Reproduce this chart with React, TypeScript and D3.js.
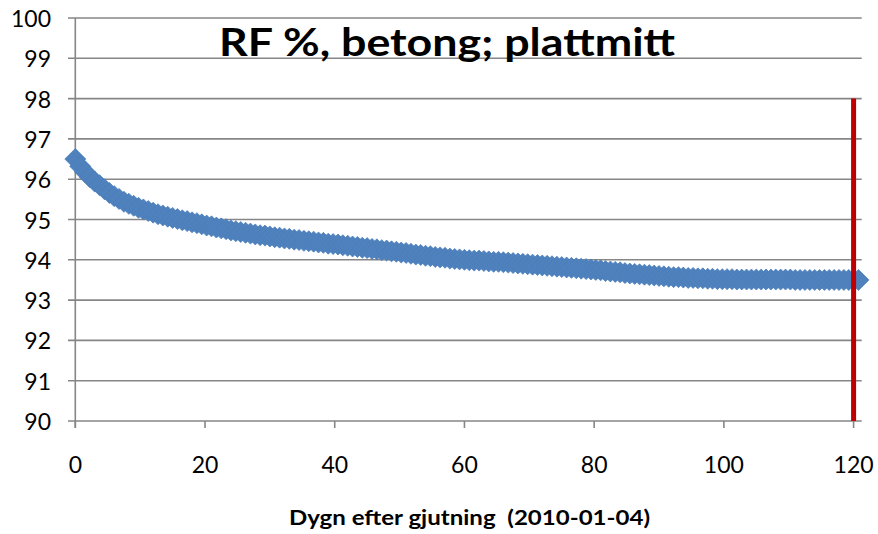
import React from "react";
import * as d3 from "d3";

// ---- data ----
const title = "RF %, betong; plattmitt";
const xAxisTitle = "Dygn efter gjutning  (2010-01-04)";
const xTicks = [0, 20, 40, 60, 80, 100, 120];
const yTicks = [90, 91, 92, 93, 94, 95, 96, 97, 98, 99, 100];
const sampleStepDays = 0.75;
const rfValues = [
  96.5, 96.32, 96.18, 96.05, 95.94, 95.85, 95.75, 95.66, 95.58, 95.51,
  95.44, 95.39, 95.34, 95.29, 95.25, 95.21, 95.17, 95.13, 95.1, 95.07,
  95.04, 95.01, 94.98, 94.96, 94.93, 94.91, 94.88, 94.85, 94.83, 94.8,
  94.78, 94.76, 94.73, 94.71, 94.69, 94.67, 94.65, 94.63, 94.61, 94.6,
  94.58, 94.56, 94.55, 94.53, 94.52, 94.5, 94.49, 94.47, 94.46, 94.45,
  94.43, 94.42, 94.4, 94.39, 94.38, 94.36, 94.35, 94.33, 94.32, 94.3,
  94.29, 94.27, 94.26, 94.24, 94.23, 94.21, 94.2, 94.18, 94.17, 94.15,
  94.13, 94.12, 94.1, 94.09, 94.07, 94.06, 94.05, 94.03, 94.02, 94.01,
  94.0, 93.99, 93.98, 93.98, 93.97, 93.96, 93.95, 93.95, 93.94, 93.93,
  93.92, 93.91, 93.9, 93.89, 93.88, 93.87, 93.86, 93.85, 93.84, 93.83,
  93.82, 93.81, 93.8, 93.79, 93.78, 93.77, 93.76, 93.75, 93.74, 93.72,
  93.71, 93.7, 93.69, 93.67, 93.66, 93.65, 93.64, 93.63, 93.62, 93.61,
  93.6, 93.59, 93.58, 93.57, 93.57, 93.56, 93.55, 93.55, 93.54, 93.54,
  93.53, 93.53, 93.52, 93.52, 93.52, 93.52, 93.51, 93.51, 93.51, 93.51,
  93.51, 93.51, 93.51, 93.51, 93.51, 93.51, 93.51, 93.51, 93.5, 93.5,
  93.5, 93.5, 93.5, 93.5, 93.5, 93.5, 93.5, 93.5, 93.5, 93.5,
  93.5, 93.5,
];
const markerLineX = [120, 120];
const markerLineY = [90, 98];

const W = 878;
const H = 534;
const FONT = "Lato, 'Open Sans', sans-serif";

export default function App() {
  const x = d3.scaleLinear().domain([0, 121.25]).range([75.3, 861.7]);
  const y = d3.scaleLinear().domain([90, 100]).range([421, 18]);
  const points = rfValues.map((v, i) => ({ d: i * sampleStepDays, v }));
  const r = 10.5;
  const diamond = (cx: number, cy: number) =>
    `M${cx},${cy - r}L${cx + r},${cy}L${cx},${cy + r}L${cx - r},${cy}Z`;
  const redLine = d3
    .line<number>()
    .x((_, i) => x(markerLineX[i]))
    .y((v) => y(v))(markerLineY);

  return (
    <svg
      width={W}
      height={H}
      style={{ position: "absolute", left: 0, top: 0, background: "#fff" }}
      fontFamily={FONT}
    >
      <rect x={0} y={0} width={W} height={H} fill="#fff" />
      {/* gridlines */}
      {yTicks.map((t) => (
        <line
          key={"g" + t}
          x1={68}
          x2={x.range()[1]}
          y1={y(t)}
          y2={y(t)}
          stroke="#868686"
          strokeWidth={1.6}
        />
      ))}
      {/* y axis */}
      <line x1={x(0)} x2={x(0)} y1={y(100)} y2={y(90) + 7} stroke="#868686" strokeWidth={1.6} />
      {xTicks.map((t) => (
        <line
          key={"xt" + t}
          x1={x(t)}
          x2={x(t)}
          y1={y(90)}
          y2={y(90) + 7}
          stroke="#868686"
          strokeWidth={1.6}
        />
      ))}
      {/* y labels */}
      {yTicks.map((t) => (
        <text
          key={"yl" + t}
          x={51}
          y={y(t)}
          textAnchor="end"
          dominantBaseline="central"
          fontSize={23}
          fill="#000"
        >
          {t}
        </text>
      ))}
      {/* x labels */}
      {xTicks.map((t) => (
        <text
          key={"xl" + t}
          x={x(t)}
          y={473}
          textAnchor="middle"
          fontSize={23}
          fill="#000"
        >
          {t}
        </text>
      ))}
      {/* series markers */}
      {points.map((p, i) => (
        <path
          key={"m" + i}
          d={diamond(x(p.d), y(p.v))}
          fill="#4F81BD"
          stroke="#4A7EBB"
          strokeWidth={0.75}
        />
      ))}
      {/* red vertical marker */}
      <path d={redLine || ""} stroke="#C00000" strokeWidth={5} fill="none" />
      {/* title */}
      <text
        x={447}
        y={56}
        textAnchor="middle"
        fontSize={39}
        fontWeight="bold"
        fill="#000"
        textLength={456}
        lengthAdjust="spacingAndGlyphs"
      >
        {title}
      </text>
      {/* x axis title */}
      <text
        x={469.5}
        y={525}
        textAnchor="middle"
        fontSize={20}
        fontWeight="bold"
        fill="#000"
        textLength={361}
        lengthAdjust="spacingAndGlyphs"
        style={{ whiteSpace: "pre" }}
      >
        {xAxisTitle}
      </text>
    </svg>
  );
}
